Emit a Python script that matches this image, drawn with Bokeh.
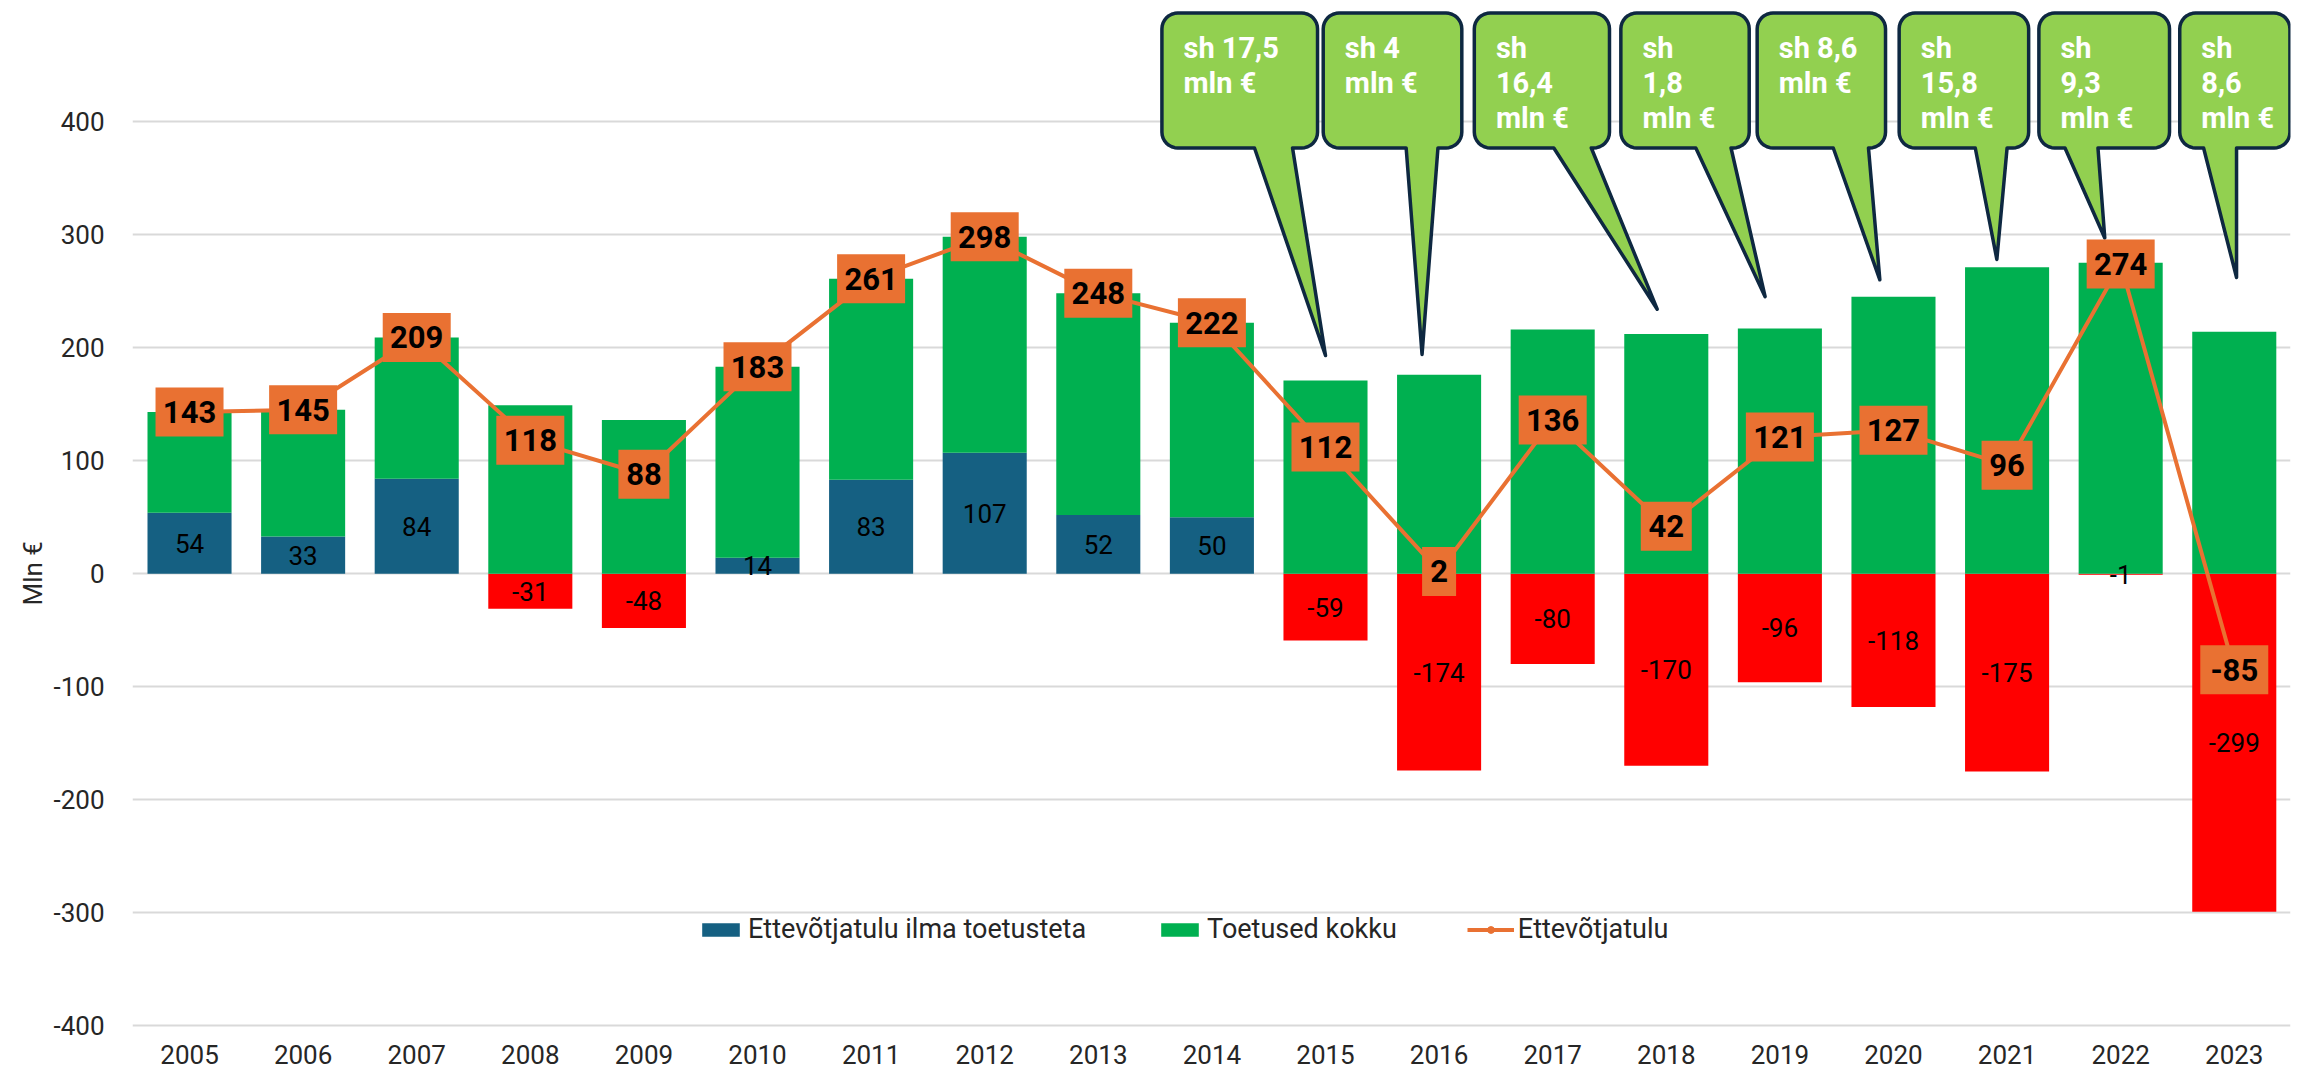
import numpy as np
from bokeh.plotting import figure
from bokeh.models import (Range1d, FixedTicker, ColumnDataSource, Legend, LegendItem, Title)
from bokeh.core.properties import value
from bokeh.embed import file_html
from bokeh.resources import INLINE

# ---------------- data ----------------
years = list(range(2005, 2024))
ilma_toetusteta = [54, 33, 84, -31, -48, 14, 83, 107, 52, 50, -59, -174, -80, -170, -96, -118, -175, -1, -299]
toetused_kokku = [89, 112, 125, 149, 136, 169, 178, 191, 196, 172, 171, 176, 216, 212, 217, 245, 271, 275, 214]
ettevotjatulu = [143, 145, 209, 118, 88, 183, 261, 298, 248, 222, 112, 2, 136, 42, 121, 127, 96, 274, -85]
y_ticks = [-400, -300, -200, -100, 0, 100, 200, 300, 400]
series_names = ["Ettevõtjatulu ilma toetusteta", "Toetused kokku", "Ettevõtjatulu"]
y_title = "Mln €"
callout_texts = ["sh 17,5\nmln €", "sh 4\nmln €", "sh\n16,4\nmln €", "sh\n1,8\nmln €",
                 "sh 8,6\nmln €", "sh\n15,8\nmln €", "sh\n9,3\nmln €", "sh\n8,6\nmln €"]

# ---------------- styles / layout ----------------
BLUE, RED, GREEN, ORANGE = "#156082", "#FF0000", "#00B050", "#E97132"
CALLOUT_FILL, CALLOUT_LINE = "#92D050", "#0E2841"
FONT = "Roboto"
BAR_W = 0.74

# callout layout (x offsets relative to anchor year, y in axis units)
callout_anchor = [2015, 2016, 2017, 2018, 2019, 2020, 2021, 2022]
callout_box = [(-1.44, -0.07), (-1.02, 0.20), (-0.69, 0.50), (-0.40, 0.73),
               (-0.20, 0.93), (0.05, 1.19), (0.28, 1.43), (0.52, 1.49)]
callout_tail = [(-0.625, -0.29), (-0.29, -0.01), (0.01, 0.34), (0.26, 0.57),
                (0.47, 0.78), (0.72, 1.00), (0.51, 0.80), (0.73, 1.02)]
callout_tip = [(0.00, 193), (-0.15, 194), (0.92, 234), (0.87, 245),
               (0.88, 260), (0.91, 278), (0.86, 297), (1.02, 262)]
BOX_Y0, BOX_Y1 = 376.6, 496.0

p = figure(width=2296, height=1076,
           x_range=Range1d(2004.498, 2023.495), y_range=Range1d(-405, 500),
           output_backend="svg", toolbar_location=None,
           min_border_left=132, min_border_right=6, min_border_top=8, min_border_bottom=45)
p.outline_line_color = None
p.background_fill_color = "white"

# grid / axes
p.xgrid.grid_line_color = None
p.ygrid.grid_line_color = "#D9D9D9"
p.ygrid.grid_line_width = 2
p.yaxis.ticker = FixedTicker(ticks=y_ticks)
p.xaxis.ticker = FixedTicker(ticks=years)
p.xaxis.major_label_overrides = {y: str(y) for y in years}
p.yaxis.major_label_overrides = {t: str(t) for t in y_ticks}
for ax in (p.xaxis, p.yaxis):
    ax.axis_line_color = None
    ax.major_tick_line_color = None
    ax.minor_tick_line_color = None
    ax.major_tick_out = 0
    ax.major_tick_in = 0
    ax.major_label_text_font = FONT
    ax.major_label_text_font_size = "26px"
    ax.major_label_text_color = "#262626"
p.yaxis.major_label_standoff = 28
p.xaxis.major_label_standoff = 13

# ---------------- bars ----------------
ilma = np.array(ilma_toetusteta, dtype=float)
toet = np.array(toetused_kokku, dtype=float)
base = np.maximum(ilma, 0)
src = ColumnDataSource(dict(
    x=years, ilma=ilma, zero=np.zeros_like(ilma),
    color=[BLUE if v >= 0 else RED for v in ilma],
    gb=base, gt=base + toet,
    mid=ilma / 2, lab=[str(int(v)) for v in ilma],
    tot=ettevotjatulu, totlab=[str(v) for v in ettevotjatulu],
    totw=[17 + 17 * len(str(v)) for v in ettevotjatulu],
))
r_ilma = p.vbar(x="x", width=BAR_W, bottom="zero", top="ilma", fill_color="color",
                line_color=None, source=src)
r_toet = p.vbar(x="x", width=BAR_W, bottom="gb", top="gt", fill_color=GREEN,
                line_color=None, source=src)
p.text(x="x", y="mid", text="lab", source=src, text_align="center", text_baseline="middle",
       text_font=value(FONT), text_font_size="26px", text_color="#000000")

# ---------------- callouts ----------------
def callout_shape(x0, x1, y0, y1, t0, t1, tx, ty, rx=0.14, ry=14.0, n=8):
    xs, ys = [t1], [y0]
    def arc(cx, cy, a0, a1):
        for k in range(n + 1):
            a = np.radians(a0 + (a1 - a0) * k / n)
            xs.append(cx + rx * np.cos(a))
            ys.append(cy + ry * np.sin(a))
    arc(x1 - rx, y0 + ry, -90, 0)
    arc(x1 - rx, y1 - ry, 0, 90)
    arc(x0 + rx, y1 - ry, 90, 180)
    arc(x0 + rx, y0 + ry, 180, 270)
    xs += [t0, tx]
    ys += [y0, ty]
    return xs, ys

cxs, cys = [], []
tx_, ty_, tt_ = [], [], []
for yr, (b0, b1), (t0, t1), (dx, ty), txt in zip(callout_anchor, callout_box, callout_tail,
                                                  callout_tip, callout_texts):
    xs, ys = callout_shape(yr + b0, yr + b1, BOX_Y0, BOX_Y1, yr + t0, yr + t1, yr + dx, ty)
    cxs.append(xs)
    cys.append(ys)
    for i, line in enumerate(txt.split("\n")):
        tx_.append(yr + b0 + 0.19)
        ty_.append(465.1 - 31.0 * i)
        tt_.append(line)
p.patches(cxs, cys, fill_color=CALLOUT_FILL, line_color=CALLOUT_LINE, line_width=3.5,
          line_join="round")
p.text(x=tx_, y=ty_, text=tt_, text_align="left", text_baseline="middle",
       text_font=value(FONT), text_font_style="bold", text_font_size="29px", text_color="white")

# ---------------- line ----------------
r_line = p.line(x="x", y="tot", source=src, line_color=ORANGE, line_width=4)
r_pts = p.scatter(x="x", y="tot", source=src, size=13, fill_color=ORANGE, line_color=ORANGE)
p.rect(x="x", y="tot", width="totw", height=49, width_units="screen", height_units="screen",
       source=src, fill_color=ORANGE, line_color=None)
p.text(x="x", y="tot", text="totlab", source=src, text_align="center", text_baseline="middle",
       text_font=value(FONT), text_font_style="bold", text_font_size="31px", text_color="#000000")

# ---------------- y title ----------------
p.add_layout(Title(text=y_title, align="left", offset=426, text_font=FONT,
                   text_font_size="26px", text_font_style="normal", text_color="#262626",
                   standoff=6), "left")

# ---------------- legend ----------------
legend = Legend(items=[
    LegendItem(label=series_names[0], renderers=[r_ilma], index=0),
    LegendItem(label=series_names[1], renderers=[r_toet]),
    LegendItem(label=series_names[2], renderers=[r_line, r_pts]),
], orientation="horizontal", location=(565, 86), background_fill_alpha=0,
    border_line_color=None, padding=0, margin=0, spacing=70, glyph_width=47, glyph_height=17,
    label_standoff=4, label_text_font=FONT, label_text_font_size="27px",
    label_text_color="#262626", label_height=30)
p.add_layout(legend)

open("out.html", "w").write(file_html(p, INLINE))
